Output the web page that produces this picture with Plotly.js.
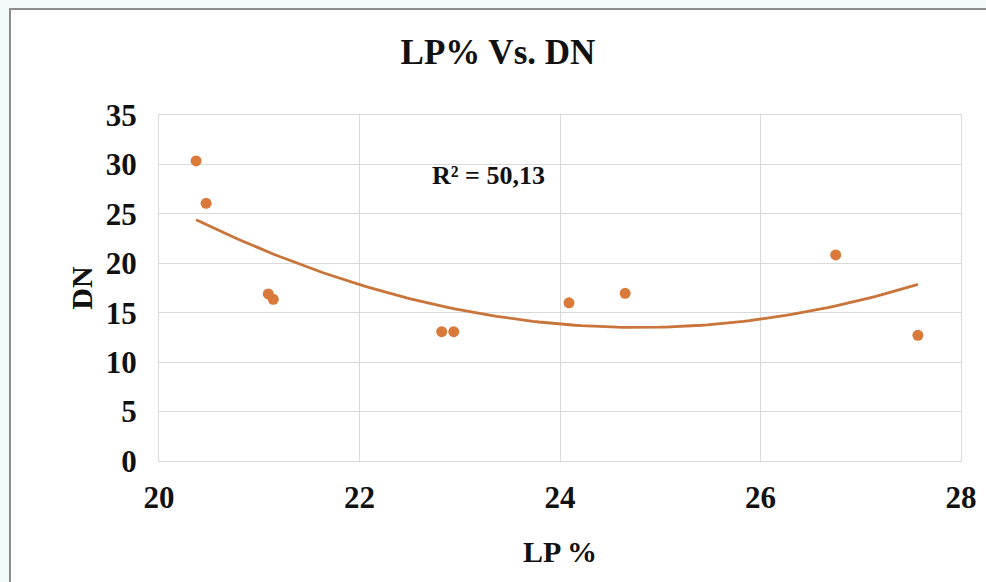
<!DOCTYPE html>
<html>
<head>
<meta charset="utf-8">
<script src="https://cdn.plot.ly/plotly-3.0.1.min.js"></script>
<style>
  html, body { margin: 0; padding: 0; background: #ffffff; }
  #chart { width: 986px; height: 582px; }
</style>
</head>
<body>
<div id="chart"></div>
<script>
// LP% (x) against DN (y) for each sample
const lpPercent = [20.37, 20.47, 21.09, 21.14, 22.82, 22.94, 24.09, 24.65, 26.75, 27.57];
const dnValues  = [30.35, 26.07, 16.90, 16.36, 13.08, 13.08, 16.00, 16.96, 20.84, 12.71];
const xTicks = [20, 22, 24, 26, 28];
const yTicks = [0, 5, 10, 15, 20, 25, 30, 35];
const chartTitle = 'LP% Vs. DN';
const rSquaredLabel = 'R² = 50,13';

// Second-order least-squares trendline through the samples
function quadFit(xs, ys) {
  let s = [0, 0, 0, 0, 0], t = [0, 0, 0];
  for (let i = 0; i < xs.length; i++) {
    let p = 1;
    for (let k = 0; k < 5; k++) { s[k] += p; if (k < 3) t[k] += p * ys[i]; p *= xs[i]; }
  }
  const M = [[s[0], s[1], s[2], t[0]], [s[1], s[2], s[3], t[1]], [s[2], s[3], s[4], t[2]]];
  for (let c = 0; c < 3; c++) {
    for (let r = c + 1; r < 3; r++) {
      const f = M[r][c] / M[c][c];
      for (let k = c; k < 4; k++) M[r][k] -= f * M[c][k];
    }
  }
  const b = [0, 0, 0];
  for (let r = 2; r >= 0; r--) {
    let v = M[r][3];
    for (let k = r + 1; k < 3; k++) v -= M[r][k] * b[k];
    b[r] = v / M[r][r];
  }
  return b; // c0 + c1 x + c2 x^2
}
const coef = quadFit(lpPercent, dnValues);
const xMin = Math.min(...lpPercent), xMax = Math.max(...lpPercent);
const trendX = [], trendY = [];
for (let i = 0; i <= 120; i++) {
  const x = xMin + (xMax - xMin) * i / 120;
  trendX.push(x);
  trendY.push(coef[0] + coef[1] * x + coef[2] * x * x);
}

const serif = 'Liberation Serif, Times New Roman, serif';
const gridColor = '#d9d9d9';
const ink = '#111111';

const traces = [
  {
    x: trendX, y: trendY, type: 'scatter', mode: 'lines',
    line: { color: '#c9743a', width: 2.8 }, hoverinfo: 'skip'
  },
  {
    x: lpPercent, y: dnValues, type: 'scatter', mode: 'markers',
    marker: { color: '#d9793a', size: 11, line: { width: 0 } }
  }
];

// pixel → paper helpers for the outer frame
const L = 159, R = 25, T = 115, B = 121, W = 986, H = 582;
const pw = W - L - R, ph = H - T - B;
const px = v => (v - L) / pw;
const py = v => (H - B - v) / ph;

const layout = {
  width: W, height: H,
  margin: { l: L, r: R, t: T, b: B },
  paper_bgcolor: '#ffffff',
  plot_bgcolor: '#ffffff',
  showlegend: false,
  title: {
    text: chartTitle,
    font: { family: serif, size: 35, color: ink, weight: 700 },
    x: 0.505, xanchor: 'center', y: 1 - 52 / H, yanchor: 'middle'
  },
  xaxis: {
    range: [20, 28], tickvals: xTicks, ticktext: xTicks.map(String),
    showgrid: true, gridcolor: gridColor, gridwidth: 1,
    showline: true, linecolor: gridColor, linewidth: 1, mirror: true,
    zeroline: false, ticks: '', ticklabelstandoff: 9,
    tickfont: { family: serif, size: 31, color: ink, weight: 700 },
    title: { text: 'LP %', standoff: 26, font: { family: serif, size: 30, color: ink, weight: 700 } }
  },
  yaxis: {
    range: [0, 35], tickvals: yTicks, ticktext: yTicks.map(String),
    showgrid: true, gridcolor: gridColor, gridwidth: 1,
    showline: true, linecolor: gridColor, linewidth: 1, mirror: true,
    zeroline: false, ticks: '', ticklabelstandoff: 15,
    tickfont: { family: serif, size: 31, color: ink, weight: 700 },
    title: { text: 'DN', standoff: 4, font: { family: serif, size: 30, color: ink, weight: 700 } }
  },
  annotations: [{
    xref: 'x', yref: 'y', x: 23.29, y: 28.93, text: rSquaredLabel, showarrow: false,
    font: { family: serif, size: 26, color: ink, weight: 700 }
  }],
  shapes: [
    { type: 'rect', xref: 'paper', yref: 'paper', x0: px(0), x1: px(W), y0: py(H), y1: py(0),
      fillcolor: '#f4f9fb', line: { width: 0 }, layer: 'below' },
    { type: 'rect', xref: 'paper', yref: 'paper', x0: px(10), x1: px(W + 5), y0: py(H + 5), y1: py(9),
      fillcolor: '#ffffff', line: { color: '#8c8c8c', width: 2 }, layer: 'below' }
  ]
};

Plotly.newPlot('chart', traces, layout, { displayModeBar: false, staticPlot: true });
</script>
</body>
</html>
